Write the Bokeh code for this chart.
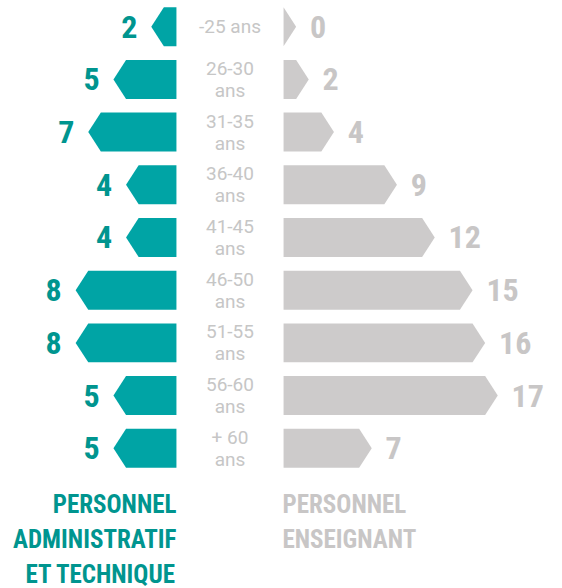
from bokeh.plotting import figure
from bokeh.models import Range1d
from bokeh.core.properties import value
from bokeh.embed import file_html
from bokeh.resources import INLINE

# ---- data ----
age_groups = ["-25 ans", "26-30\nans", "31-35\nans", "36-40\nans", "41-45\nans",
              "46-50\nans", "51-55\nans", "56-60\nans", "+ 60\nans"]
admin_tech = [2, 5, 7, 4, 4, 8, 8, 5, 5]
enseignant = [0, 2, 4, 9, 12, 15, 16, 17, 7]
left_title = ["PERSONNEL", "ADMINISTRATIF", "ET TECHNIQUE"]
right_title = ["PERSONNEL", "ENSEIGNANT"]

# ---- style ----
TEAL = "#00a4a5"
TEAL_TXT = "#00958f"
GRAY = "#cdcbcb"
GRAY_TXT = "#c8c6c6"
LABEL_GRAY = "#c6c6c6"
BOLD_FONT = value("'Roboto Condensed', 'Liberation Sans Narrow', 'Liberation Sans', sans-serif")
LIGHT_FONT = value("Roboto")

G = 4.25        # half gap between the two sides (value units)
HEAD = 1.0      # arrow head length (value units)
BAR_H = 0.74    # bar thickness (row units)
GAP = 1.1       # gap between tip and number

p = figure(width=562, height=588, output_backend="svg", toolbar_location=None,
           x_range=Range1d(-18.214, 26.389), y_range=Range1d(-10.661, 0.497),
           min_border=0, outline_line_color=None)
p.axis.visible = False
p.grid.visible = False
p.background_fill_color = "white"
p.border_fill_color = "white"

rows = list(range(len(age_groups)))
ys = [-i for i in rows]


def arrow(v, y, sign):
    tip = max(v, HEAD)
    body = max(tip - HEAD, 0)
    xs = [sign * G, sign * (G + body), sign * (G + tip), sign * (G + body), sign * G]
    yy = [y + BAR_H / 2, y + BAR_H / 2, y, y - BAR_H / 2, y - BAR_H / 2]
    return xs, yy, sign * (G + tip + GAP)


lx, ly, lnx = [], [], []
rx, ry, rnx = [], [], []
for v_l, v_r, y in zip(admin_tech, enseignant, ys):
    a, b, c = arrow(v_l, y, -1)
    lx.append(a); ly.append(b); lnx.append(c)
    a, b, c = arrow(v_r, y, 1)
    rx.append(a); ry.append(b); rnx.append(c)

p.patches(xs=lx, ys=ly, fill_color=TEAL, line_color=None)
p.patches(xs=rx, ys=ry, fill_color=GRAY, line_color=None)

p.text(x=lnx, y=ys, text=[str(v) for v in admin_tech], text_align="right",
       text_baseline="middle", text_font=BOLD_FONT, text_font_style="bold",
       text_font_size="32px", text_color=TEAL_TXT)
p.text(x=rnx, y=ys, text=[str(v) for v in enseignant], text_align="left",
       text_baseline="middle", text_font=BOLD_FONT, text_font_style="bold",
       text_font_size="32px", text_color=GRAY_TXT)

p.text(x=[0] * len(ys), y=ys, text=age_groups, text_align="center",
       text_baseline="middle", text_font=LIGHT_FONT, text_font_size="19px",
       text_line_height=0.95, text_color=LABEL_GRAY)

# titles
T0 = -9.067
TP = 0.664
p.text(x=[-G] * len(left_title), y=[T0 - i * TP for i in range(len(left_title))],
       text=left_title, text_align="right", text_baseline="middle",
       text_font=BOLD_FONT, text_font_style="bold", text_font_size="25px",
       text_color=TEAL_TXT)
p.text(x=[G - 0.08] * len(right_title), y=[T0 - i * TP for i in range(len(right_title))],
       text=right_title, text_align="left", text_baseline="middle",
       text_font=BOLD_FONT, text_font_style="bold", text_font_size="25px",
       text_color=GRAY_TXT)

open("out.html", "w").write(file_html(p, INLINE))
